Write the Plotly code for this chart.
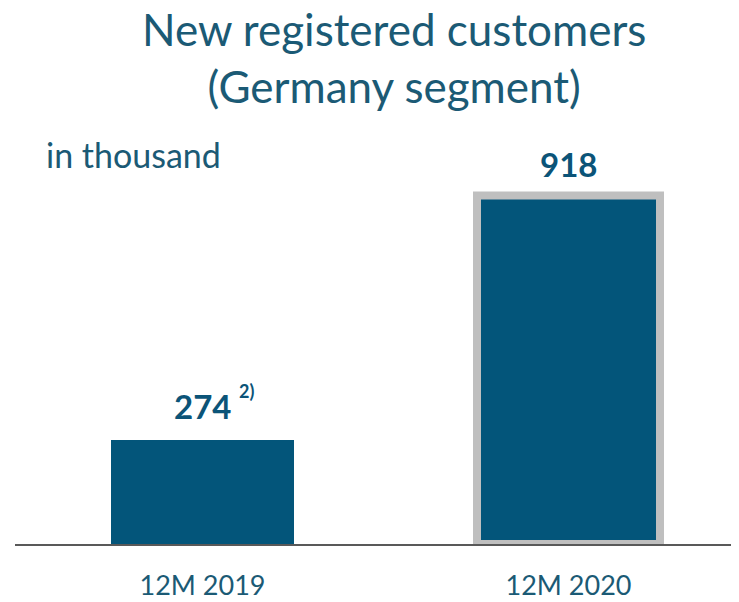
import plotly.graph_objects as go

categories = ["12M 2019", "12M 2020"]
values = [274, 918]
value_labels = ["274", "918"]
footnotes = ["2)", ""]

W, H = 739, 602
OFF = 8  # default page margin of the html body
ML, MR, MT, MB = 15 - OFF, 0, 130 - OFF, 58 + OFF
PW, PH = W - ML - MR, H - MT - MB

BAR = "#03557A"
TXT = "#1B5A75"
LBL = "#0B5478"
FONT = "Lato"

fig = go.Figure()
fig.add_trace(go.Bar(
    x=[0, 1], y=values, width=0.5,
    marker=dict(color=BAR,
                line=dict(color=["rgba(0,0,0,0)", "#BFBFBF"], width=[0, 8])),
    hoverinfo="skip",
))

def px_x(px):
    return (px - OFF - ML) / PW

def px_y(py):
    return (H - MB - (py - OFF)) / PH

ann = []
ann.append(dict(text="New registered customers<br>(Germany segment)",
                x=px_x(394), y=px_y(57), xref="paper", yref="paper",
                showarrow=False, font=dict(family=FONT, size=44, color=TXT),
                xanchor="center", yanchor="middle"))
ann.append(dict(text="in thousand", x=px_x(44), y=px_y(154), xref="paper", yref="paper",
                showarrow=False, font=dict(family=FONT, size=34, color=TXT),
                xanchor="left", yanchor="middle"))
for i, (v, lab, fn) in enumerate(zip(values, value_labels, footnotes)):
    ann.append(dict(text="<b>%s</b>" % lab, x=i, y=v, xref="x", yref="y",
                    showarrow=False, yshift=34 if i == 0 else 32,
                    font=dict(family=FONT, size=33, color=LBL),
                    xanchor="center", yanchor="middle"))
    if fn:
        ann.append(dict(text="<b>%s</b>" % fn, x=i, y=v, xref="x", yref="y",
                        showarrow=False, yshift=49, xshift=44,
                        font=dict(family=FONT, size=18, color=LBL),
                        xanchor="center", yanchor="middle"))

# pixel scale: 183 px per 0.5 category units, 104 px per 274
x0_px = 202.5 - OFF - ML
unit = 366.0
yscale = 104 / 274

fig.update_layout(
    width=W, height=H,
    margin=dict(l=ML, r=MR, t=MT, b=MB, pad=0),
    paper_bgcolor="white", plot_bgcolor="white",
    showlegend=False,
    annotations=ann,
    xaxis=dict(range=[-x0_px / unit, (PW - x0_px) / unit], tickvals=[0, 1], ticktext=categories,
               showgrid=False, zeroline=False, showline=True, linecolor="#595959",
               linewidth=2, ticks="", ticklabelstandoff=17,
               tickfont=dict(family=FONT, size=27, color=TXT), fixedrange=True),
    yaxis=dict(range=[0, PH / yscale], visible=False, fixedrange=True),
)

fig.write_html("out.html")
